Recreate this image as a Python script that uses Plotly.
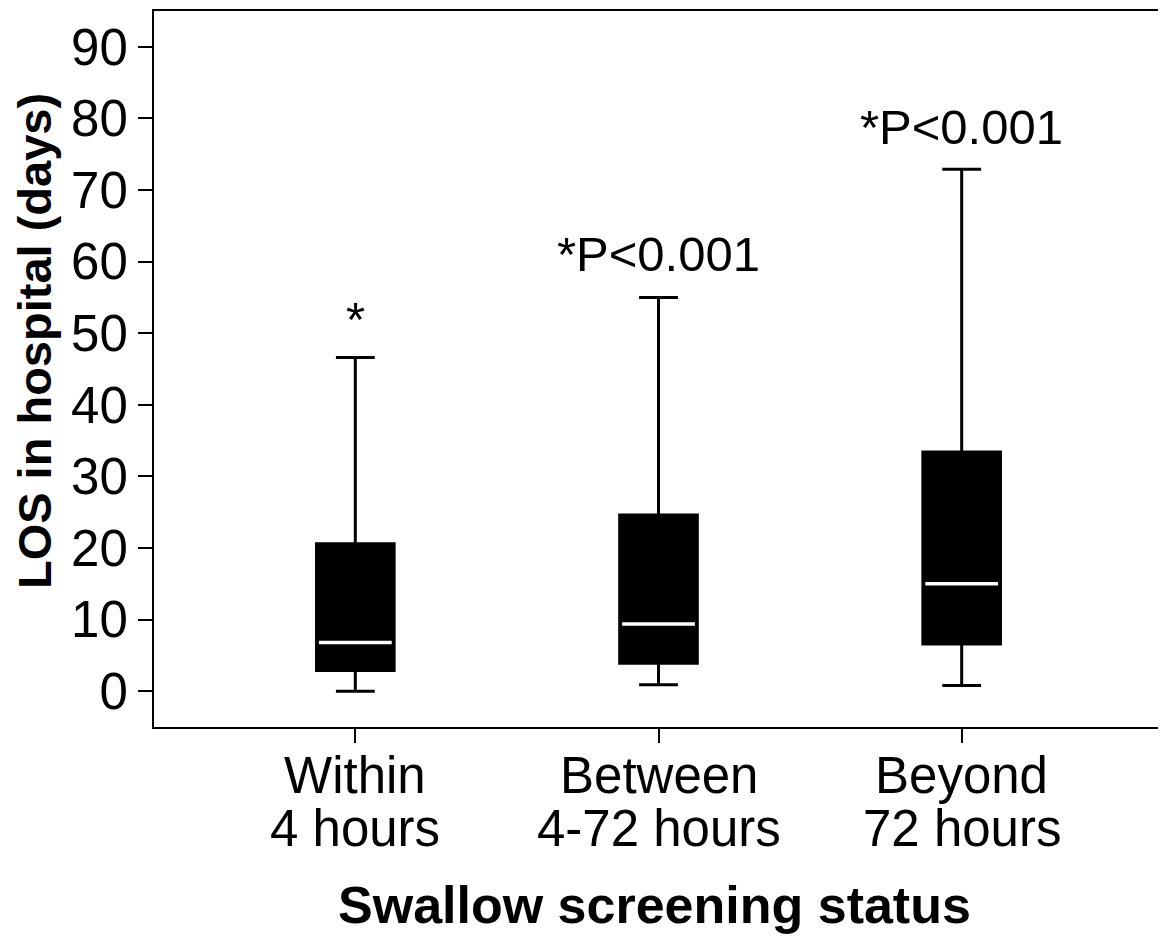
import plotly.graph_objects as go

categories = ["Within\n4 hours", "Between\n4-72 hours", "Beyond\n72 hours"]
q1 = [2.9, 3.9, 6.6]
median = [6.8, 9.4, 15.0]
q3 = [20.6, 24.6, 33.4]
lower_whisker = [0.0, 0.9, 0.8]
upper_whisker = [46.6, 55.0, 72.9]
annotation_text = ["*", "*P<0.001", "*P<0.001"]
annotation_y = [52.0, 61.0, 78.8]

y_ticks = [0, 10, 20, 30, 40, 50, 60, 70, 80, 90]
positions = list(range(len(categories)))

FONT = "Liberation Sans, Arial, sans-serif"
BOX_W = 0.256

fig = go.Figure()
fig.add_trace(go.Box(
    x=positions, q1=q1, median=median, q3=q3,
    lowerfence=lower_whisker, upperfence=upper_whisker,
    width=BOX_W, whiskerwidth=0.5,
    fillcolor="black", line=dict(color="black", width=3),
    boxpoints=False, hoverinfo="skip", showlegend=False,
))

mx, my = [], []
for p, m in zip(positions, median):
    mx += [p - BOX_W / 2 + 0.008, p + BOX_W / 2 - 0.008, None]
    my += [m, m, None]
fig.add_trace(go.Scatter(x=mx, y=my, mode="lines",
                         line=dict(color="white", width=3.5),
                         hoverinfo="skip", showlegend=False))

for p, t, ya in zip(positions, annotation_text, annotation_y):
    fig.add_annotation(x=p, y=ya, text=t, showarrow=False,
                       xanchor="center", yanchor="middle",
                       font=dict(family=FONT, size=49, color="black"))

# category labels (two lines each, tight line spacing as in reference)
for p, lab in zip(positions, categories):
    for k, line in enumerate(lab.split("\n")):
        fig.add_annotation(x=p, xref="x", y=0, yref="paper", text=line,
                           showarrow=False, xanchor="center", yanchor="middle",
                           yshift=-48 - 53 * k,
                           font=dict(family=FONT, size=51, color="black"))

fig.add_annotation(x=0.5, xref="paper", y=0, yref="paper",
                   text="<b>Swallow screening status</b>", showarrow=False,
                   xanchor="center", yanchor="middle", yshift=-178, xshift=-4,
                   font=dict(family=FONT, size=52, color="black"))
fig.add_annotation(x=0, xref="paper", y=(718 - 331) / 718, yref="paper",
                   text="<b>LOS in hospital (days)</b>", showarrow=False,
                   textangle=-90, xanchor="center", yanchor="middle", xshift=-120,
                   font=dict(family=FONT, size=47, color="black"))

fig.update_layout(
    width=1158, height=931,
    margin=dict(l=146, r=1, t=1, b=212),
    paper_bgcolor="white", plot_bgcolor="white",
    font=dict(family=FONT, color="black"),
)
fig.update_xaxes(
    range=[-0.664, 2.664], tickvals=positions, showticklabels=False,
    ticks="outside", ticklen=14, tickwidth=2, tickcolor="black",
    showline=True, linecolor="black", linewidth=2, mirror=True,
    showgrid=False, zeroline=False,
)
fig.update_yaxes(
    range=[-5, 95], tickvals=y_ticks, ticktext=[str(v) for v in y_ticks],
    ticks="outside", ticklen=14, tickwidth=2, tickcolor="black",
    showline=True, linecolor="black", linewidth=2, mirror=True,
    showgrid=False, zeroline=False,
    tickfont=dict(family=FONT, size=51, color="black"),
)

fig.write_html("out.html")
